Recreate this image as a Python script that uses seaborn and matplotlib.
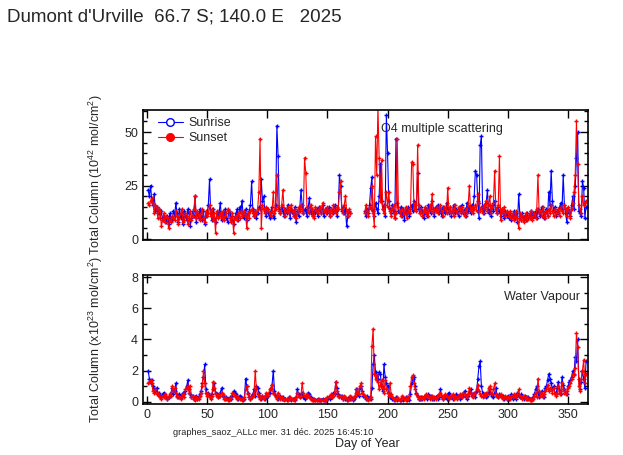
import numpy as np
import pandas as pd
import matplotlib
matplotlib.use("Agg")
import matplotlib.pyplot as plt
from matplotlib.lines import Line2D
from matplotlib.ticker import MultipleLocator
import seaborn as sns

nan = np.nan
days = list(range(1, 366))

# O4 total column (10^42 mol/cm2), one value per day, gap days 170-180
o4_sunrise = [
    23, 20, 25, 18, 16, 21, 13, 15, 12, 14, 10, 13, 9, 11, 10, 8, 11, 7, 12, 10,
    9, 13, 11, 17, 12, 8, 14, 10, 12, 7, 13, 11, 9, 14, 12, 6, 10, 13, 11, 20,
    8, 12, 10, 14, 11, 9, 13, 7, 11, 12, 16, 28, 12, 9, 14, 10, 8, 12, 11, 13,
    17, 9, 12, 11, 14, 10, 8, 13, 12, 9, 11, 7, 10, 12, 14, 9, 15, 13, 18, 11,
    10, 14, 9, 12, 13, 16, 27, 14, 11, 13, 10, 12, 15, 14, 28, 18, 20, 13, 11, 14,
    12, 10, 13, 15, 11, 10, 16, 53, 39, 14, 12, 15, 13, 11, 14, 12, 16, 13, 10, 14,
    12, 11, 15, 8, 13, 11, 14, 23, 16, 12, 14, 13, 11, 15, 19, 12, 14, 11, 13, 12,
    14, 11, 15, 13, 12, 16, 11, 13, 14, 12, 15, 11, 14, 13, 12, 16, 13, 11, 14, 30,
    25, 13, 15, 12, 14, 6, 11, 13, 12, nan, nan, nan, nan, nan, nan, nan, nan, nan, nan, nan,
    13, 11, 14, 12, 16, 24, 29, 13, 11, 17, 14, 12, 20, 35, 18, 14, 16, 11, 58, 40,
    18, 14, 12, 16, 13, 10, 47, 17, 13, 12, 15, 11, 14, 9, 13, 12, 15, 11, 14, 16,
    13, 18, 16, 14, 31, 14, 12, 15, 13, 10, 12, 14, 11, 16, 13, 12, 18, 14, 11, 15,
    13, 16, 12, 14, 11, 15, 13, 12, 17, 14, 12, 15, 11, 13, 16, 12, 14, 13, 11, 15,
    13, 16, 12, 14, 11, 17, 13, 15, 12, 16, 14, 20, 32, 30, 18, 10, 44, 48, 14, 12,
    15, 17, 23, 12, 14, 11, 16, 13, 18, 14, 12, 15, 13, 11, 14, 12, 10, 13, 11, 12,
    10, 12, 9, 11, 13, 10, 12, 8, 21, 11, 9, 12, 10, 11, 9, 12, 10, 11, 13, 10,
    12, 11, 13, 10, 14, 12, 11, 15, 13, 10, 12, 14, 11, 22, 16, 32, 18, 13, 15, 11,
    13, 12, 15, 17, 14, 30, 16, 12, 8, 14, 12, 11, 16, 20, 14, 25, 38, 50, 13, 12,
    11, 27, 24, 10, 15,
]
o4_sunset = [
    17, 16, 18, 19, 17, 12, 16, 15, 10, 14, 13, 6, 9, 12, 8, 11, 10, 5, 9, 8,
    11, 10, 9, 13, 11, 7, 10, 12, 14, 8, 9, 12, 11, 7, 10, 13, 9, 11, 14, 20,
    10, 13, 11, 9, 12, 14, 10, 8, 13, 11, 12, 16, 11, 14, 9, 12, 3, 13, 10, 11,
    12, 10, 13, 9, 11, 12, 14, 13, 10, 8, 12, 3, 10, 11, 9, 12, 10, 13, 11, 12,
    13, 11, 5, 12, 10, 13, 14, 12, 11, 13, 12, 14, 22, 47, 5, 16, 14, 12, 15, 13,
    14, 12, 11, 13, 22, 12, 14, 30, 15, 13, 12, 16, 23, 14, 11, 13, 15, 12, 14, 16,
    13, 11, 14, 10, 12, 15, 13, 16, 14, 12, 38, 31, 15, 13, 12, 16, 14, 11, 10, 15,
    13, 12, 14, 15, 12, 17, 13, 14, 12, 15, 13, 11, 14, 12, 16, 13, 12, 15, 14, 22,
    27, 14, 12, 16, 20, 13, 11, 14, 12, nan, nan, nan, nan, nan, nan, nan, nan, nan, nan, nan,
    12, 16, 13, 11, 15, 14, 25, 12, 6, 48, 30, 62, 38, 18, 37, 14, 12, 16, 22, 15,
    22, 13, 11, 14, 16, 10, 12, 47, 15, 13, 11, 14, 13, 12, 15, 10, 13, 14, 12, 36,
    35, 14, 17, 13, 44, 16, 12, 14, 11, 13, 15, 12, 14, 11, 16, 13, 21, 12, 14, 13,
    15, 12, 14, 16, 13, 11, 15, 14, 12, 24, 13, 15, 12, 14, 11, 16, 13, 12, 15, 14,
    12, 15, 13, 11, 14, 12, 16, 25, 13, 15, 12, 14, 16, 13, 21, 17, 13, 15, 12, 16,
    14, 18, 13, 16, 20, 12, 15, 17, 32, 14, 12, 16, 39, 9, 14, 12, 15, 11, 13, 12,
    11, 13, 10, 12, 9, 11, 13, 10, 5, 12, 9, 11, 8, 10, 12, 9, 11, 10, 13, 9,
    11, 12, 10, 14, 30, 12, 13, 11, 15, 12, 10, 13, 11, 14, 12, 16, 13, 11, 14, 12,
    12, 14, 11, 15, 13, 12, 16, 14, 11, 15, 13, 10, 14, 17, 22, 30, 55, 35, 16, 14,
    12, 20, 16, 17, 18,
]

# Water vapour total column (x10^23 mol/cm2)
h2o_sunrise = [
    2.0, 1.5, 1.2, 1.4, 1.0, 0.8, 0.7, 0.9, 0.5, 0.6, 0.4, 0.3, 0.5, 0.6, 0.4, 0.3, 0.2, 0.3, 0.4, 0.6,
    0.9, 0.5, 0.7, 1.2, 0.4, 0.3, 0.5, 0.4, 0.3, 0.6, 0.5, 0.7, 1.0, 1.4, 0.8, 0.5, 0.3, 0.4, 0.2, 0.3,
    0.4, 0.2, 0.3, 0.5, 0.7, 1.2, 1.6, 2.4, 0.8, 0.5, 0.6, 0.4, 0.3, 0.5, 0.8, 1.2, 0.6, 0.5, 0.3, 0.4,
    0.6, 0.9, 0.4, 0.3, 0.2, 0.3, 0.2, 0.1, 0.3, 0.2, 0.4, 0.7, 0.6, 0.5, 0.3, 0.2, 0.4, 0.3, 0.2, 0.1,
    0.2, 1.5, 1.0, 0.6, 0.3, 0.2, 0.4, 0.5, 0.8, 0.4, 1.0, 0.9, 0.6, 0.3, 0.2, 0.4, 0.3, 0.2, 0.3, 0.5,
    0.4, 0.6, 0.8, 1.1, 2.0, 0.7, 0.4, 0.3, 0.2, 0.3, 0.4, 0.2, 0.3, 0.2, 0.2, 0.1, 0.2, 0.3, 0.2, 0.1,
    0.2, 0.2, 0.1, 0.3, 0.8, 0.5, 0.3, 0.4, 0.6, 0.3, 0.2, 0.3, 0.4, 0.6, 0.5, 0.3, 0.2, 0.1, 0.2, 0.1,
    0.1, 0.2, 0.1, 0.1, 0.1, 0.2, 0.1, 0.1, 0.1, 0.2, 0.3, 0.2, 0.4, 0.3, 0.6, 0.5, 1.3, 0.9, 0.5, 0.4,
    0.3, 0.4, 0.2, 0.3, 0.2, 0.1, 0.2, 0.3, 0.2, 0.3, 0.1, 0.2, 0.3, 0.8, 0.5, 0.4, 0.9, 1.0, 0.7, 0.4,
    0.3, 0.2, 0.4, 0.2, 0.3, 0.2, 0.9, 2.4, 3.0, 1.9, 1.4, 1.5, 1.9, 1.8, 1.0, 0.7, 2.4, 1.6, 1.2, 1.0,
    0.6, 0.3, 0.4, 0.2, 0.1, 0.2, 0.3, 0.1, 0.2, 0.1, 0.1, 0.2, 0.1, 0.2, 0.3, 0.1, 0.2, 0.1, 0.5, 1.2,
    1.5, 1.6, 1.0, 0.6, 0.4, 0.2, 0.2, 0.3, 0.2, 0.3, 0.4, 0.3, 0.2, 0.5, 0.3, 0.4, 0.2, 0.3, 0.2, 0.3,
    0.4, 0.2, 0.3, 0.8, 0.3, 0.2, 0.4, 0.3, 0.2, 0.5, 0.6, 0.4, 0.3, 0.2, 0.4, 0.3, 0.5, 0.3, 0.4, 0.2,
    0.3, 0.5, 0.4, 0.7, 0.3, 0.2, 0.4, 0.6, 0.8, 0.5, 0.4, 0.6, 0.3, 0.7, 1.5, 2.3, 2.6, 1.0, 0.6, 0.4,
    0.5, 0.3, 0.4, 0.6, 0.8, 0.5, 0.4, 0.3, 0.6, 0.9, 0.4, 0.3, 0.5, 0.4, 0.3, 0.4, 0.2, 0.3, 0.2, 0.4,
    0.2, 0.3, 0.5, 0.2, 0.4, 0.3, 0.2, 0.6, 0.4, 0.3, 0.5, 0.3, 0.2, 0.4, 0.3, 0.2, 0.3, 0.2, 0.1, 0.2,
    0.3, 0.5, 0.8, 1.0, 0.6, 0.3, 0.5, 0.7, 0.4, 0.3, 0.9, 1.0, 1.4, 1.8, 1.5, 1.2, 0.8, 1.0, 0.6, 0.5,
    0.9, 1.3, 0.7, 0.5, 1.6, 1.1, 0.8, 0.6, 0.5, 1.0, 1.3, 1.4, 1.6, 2.0, 1.8, 2.9, 2.6, 4.0, 1.5, 0.8,
    1.3, 2.0, 1.5, 0.9, 2.6,
]
h2o_sunset = [
    1.2, 1.3, 1.4, 1.2, 0.7, 0.6, 0.8, 0.5, 0.6, 0.4, 0.3, 0.2, 0.4, 0.3, 0.5, 0.4, 0.2, 0.3, 0.5, 0.4,
    1.0, 0.7, 0.9, 0.6, 0.3, 0.4, 0.3, 0.2, 0.4, 0.5, 0.3, 0.8, 0.9, 1.0, 0.6, 1.0, 0.3, 0.4, 0.2, 0.1,
    0.3, 0.2, 0.2, 0.4, 0.6, 1.0, 2.0, 1.2, 0.6, 0.4, 0.5, 0.3, 0.2, 0.4, 1.3, 0.9, 0.5, 0.4, 0.3, 0.5,
    0.4, 0.6, 0.5, 0.2, 0.3, 0.2, 0.1, 0.2, 0.2, 0.3, 0.6, 0.5, 0.4, 0.3, 0.2, 0.3, 0.2, 0.2, 0.1, 0.2,
    0.3, 0.8, 1.0, 0.5, 0.3, 0.2, 0.3, 0.4, 0.6, 2.0, 0.8, 0.5, 0.3, 0.2, 0.3, 0.4, 0.2, 0.3, 0.6, 0.4,
    0.5, 0.8, 0.9, 1.1, 0.6, 0.5, 0.3, 0.2, 0.6, 0.4, 0.2, 0.3, 0.2, 0.1, 0.2, 0.2, 0.1, 0.2, 0.3, 0.2,
    0.2, 0.1, 0.2, 0.3, 0.6, 0.4, 0.3, 0.4, 1.2, 0.6, 0.4, 0.3, 0.5, 0.4, 0.3, 0.2, 0.1, 0.2, 0.1, 0.1,
    0.1, 0.1, 0.2, 0.1, 0.1, 0.1, 0.1, 0.2, 0.1, 0.3, 0.3, 0.4, 0.5, 0.3, 0.4, 0.6, 1.3, 0.7, 0.4, 0.3,
    0.4, 0.3, 0.2, 0.4, 0.3, 0.2, 0.1, 0.2, 0.4, 0.2, 0.2, 0.3, 0.4, 0.6, 0.8, 0.5, 1.0, 1.2, 0.6, 0.5,
    0.4, 0.3, 0.2, 0.1, 0.2, 0.3, 3.6, 4.7, 1.8, 1.5, 1.7, 1.3, 0.8, 1.1, 1.4, 0.9, 0.6, 1.4, 0.8, 0.6,
    0.4, 1.2, 0.5, 0.3, 0.2, 0.1, 0.2, 0.3, 0.2, 0.1, 0.2, 0.4, 0.3, 0.2, 0.1, 0.3, 0.2, 0.4, 1.0, 1.6,
    1.7, 1.2, 0.8, 0.5, 0.3, 0.2, 0.3, 0.2, 0.3, 0.2, 0.4, 0.5, 0.3, 0.4, 0.2, 0.3, 0.4, 0.2, 0.3, 0.2,
    0.3, 0.4, 0.5, 0.6, 0.4, 0.2, 0.3, 0.5, 0.4, 0.3, 0.2, 0.4, 0.3, 0.5, 0.2, 0.4, 0.3, 0.2, 0.3, 0.5,
    0.4, 0.3, 0.6, 0.5, 0.4, 0.3, 0.5, 0.9, 0.6, 0.4, 0.3, 0.5, 0.6, 0.8, 1.1, 0.7, 0.5, 0.4, 0.3, 0.5,
    0.4, 0.6, 0.5, 0.9, 1.0, 0.6, 0.5, 0.8, 1.2, 0.5, 0.4, 0.3, 0.4, 0.5, 0.3, 0.2, 0.3, 0.4, 0.2, 0.3,
    0.3, 0.2, 0.4, 0.3, 0.5, 0.4, 0.3, 0.5, 0.8, 0.4, 0.3, 0.2, 0.4, 0.3, 0.2, 0.3, 0.2, 0.1, 0.2, 0.1,
    0.2, 0.4, 0.6, 0.3, 1.5, 0.7, 0.4, 0.6, 0.3, 0.5, 0.7, 0.8, 1.1, 0.7, 0.9, 0.8, 0.6, 0.9, 0.5, 0.4,
    0.6, 1.0, 0.5, 0.7, 1.2, 0.8, 0.6, 0.5, 0.7, 0.9, 1.0, 1.2, 1.5, 1.8, 1.7, 2.2, 4.4, 3.5, 1.0, 0.7,
    1.5, 2.0, 2.7, 1.2, 1.8,
]

for name, arr in [("o4_sunrise", o4_sunrise), ("o4_sunset", o4_sunset),
                  ("h2o_sunrise", h2o_sunrise), ("h2o_sunset", h2o_sunset)]:
    assert len(arr) == 365, (name, len(arr))

sns.set_style("ticks")
plt.rcParams['font.family'] = ['Liberation Sans', 'DejaVu Sans']
plt.rcParams['mathtext.default'] = 'regular'
plt.rcParams['axes.linewidth'] = 1.2


def long_form(rise, sset, gap_after=None):
    df = pd.DataFrame({
        'day': days * 2,
        'value': rise + sset,
        'series': ['Sunrise'] * 365 + ['Sunset'] * 365,
    })
    df['segment'] = 0
    if gap_after is not None:
        df.loc[df['day'] > gap_after, 'segment'] = 1
    return df.dropna()


palette = {'Sunrise': 'blue', 'Sunset': 'red'}
fig = plt.figure(figsize=(6.23, 4.55), dpi=100)
ax1 = fig.add_axes([0.2295, 0.4725, 0.7143, 0.2857])
ax2 = fig.add_axes([0.2295, 0.1121, 0.7143, 0.2835])

for ax, df in [(ax1, long_form(o4_sunrise, o4_sunset, gap_after=169)),
               (ax2, long_form(h2o_sunrise, h2o_sunset))]:
    sns.lineplot(data=df, x='day', y='value', hue='series', hue_order=['Sunrise', 'Sunset'],
                 palette=palette, units='segment', estimator=None, sort=True,
                 marker='+', markersize=3.5, mew=1, mec='auto', linewidth=0.8,
                 legend=False, ax=ax)
    ax.set_xlim(-3.3, 366.6)
    ax.xaxis.set_major_locator(MultipleLocator(50))
    ax.tick_params(which='both', direction='in', top=True, right=True, labelsize=9,
                   color='black', width=1)
    ax.tick_params(which='major', length=6)
    ax.tick_params(which='minor', length=3)
    ax.set_xlabel('')
    for s in ax.spines.values():
        s.set_color('black')

ax1.set_ylim(-0.4, 60.3)
ax1.yaxis.set_major_locator(MultipleLocator(25))
ax1.yaxis.set_minor_locator(MultipleLocator(5))
ax1.tick_params(labelbottom=False)
ax1.set_ylabel(r"Total Column (10$^{42}$ mol/cm$^{2}$)", fontsize=9)
ax1.yaxis.set_label_coords(-0.085, 0.5)
ax1.text(0.535, 0.855, "O4 multiple scattering", transform=ax1.transAxes,
         fontsize=9, ha='left', va='center')

handles = [
    Line2D([], [], color='blue', marker='o', markerfacecolor='white', markersize=5.5, linewidth=0.8),
    Line2D([], [], color='red', marker='o', markerfacecolor='red', markersize=5.5, linewidth=0.8),
]
ax1.legend(handles, ['Sunrise', 'Sunset'], loc='upper left', bbox_to_anchor=(0.0225, 0.985),
           frameon=False, fontsize=9, handlelength=2.0, handletextpad=0.4,
           labelspacing=0.25, borderaxespad=0.0)

ax2.set_ylim(-0.13, 8.13)
ax2.yaxis.set_major_locator(MultipleLocator(2))
ax2.yaxis.set_minor_locator(MultipleLocator(1))
ax2.set_ylabel(r"Total Column (x10$^{23}$ mol/cm$^{2}$)", fontsize=9)
ax2.yaxis.set_label_coords(-0.085, 0.5)
ax2.text(0.982, 0.83, "Water Vapour", transform=ax2.transAxes,
         fontsize=9, ha='right', va='center')

fig.text(0.011, 0.962, "Dumont d'Urville  66.7 S; 140.0 E   2025", fontsize=13.5,
         ha='left', va='center')
fig.text(0.278, 0.049, "graphes_saoz_ALLc mer. 31 déc. 2025 16:45:10", fontsize=6.7,
         ha='left', va='center')
fig.text(0.589, 0.024, "Day of Year", fontsize=9, ha='center', va='center')

fig.savefig("out.png", dpi=100)
